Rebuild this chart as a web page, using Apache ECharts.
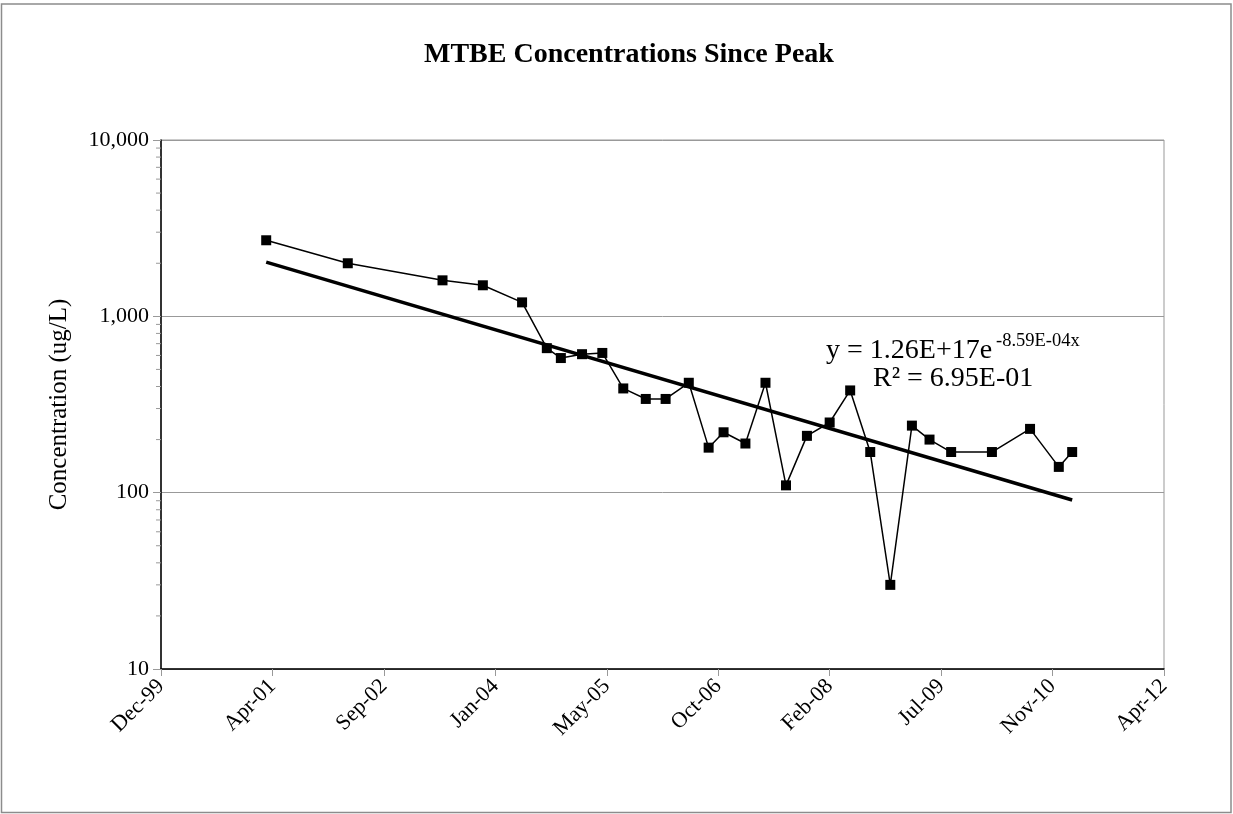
<!DOCTYPE html>
<html>
<head>
<meta charset="utf-8">
<title>MTBE Concentrations Since Peak</title>
<script src="https://cdn.jsdelivr.net/npm/echarts@6/dist/echarts.min.js"></script>
<style>
  html, body { margin: 0; padding: 0; background: #ffffff; }
  #chart { width: 1233px; height: 814px; }
</style>
</head>
<body>
<div id="chart"></div>
<script>
// Sampling dates and measured MTBE concentrations (ug/L)
const sampleDates = [
  '2001-03-22', '2002-03-23', '2003-05-22', '2003-11-19', '2004-05-13',
  '2004-09-01', '2004-11-03', '2005-02-06', '2005-05-08', '2005-08-10',
  '2005-11-19', '2006-02-16', '2006-05-31', '2006-08-28', '2006-11-03',
  '2007-02-09', '2007-05-10', '2007-08-10', '2007-11-12', '2008-02-22',
  '2008-05-24', '2008-08-22', '2008-11-20', '2009-02-25', '2009-05-15',
  '2009-08-20', '2010-02-19', '2010-08-09', '2010-12-16', '2011-02-14'
];
const mtbeValues = [
  2700, 2000, 1600, 1500, 1200,
  660, 580, 610, 620, 390,
  340, 340, 420, 180, 220,
  190, 420, 110, 210, 250,
  380, 170, 30, 240, 200,
  170, 170, 230, 140, 170
];

// Exponential fit y = A * e^(B * x), x = spreadsheet day serial
const trendA = 1.26e17;
const trendB = -8.59e-4;
const trendLabel = 'y = 1.26E+17e';
const trendExponentLabel = '-8.59E-04x';
const r2Label = 'R\u00b2 = 6.95E-01';

// Axis range as day serials (Dec-99 .. Apr-12, 500-day steps)
const xMin = 36500;
const xMax = 41000;
const xStep = 500;
const yMin = 10;
const yMax = 10000;

const MONTHS = ['Jan','Feb','Mar','Apr','May','Jun','Jul','Aug','Sep','Oct','Nov','Dec'];
const EPOCH = Date.UTC(1899, 11, 30);
const DAY = 86400000;

function toSerial(iso) {
  return Math.round((Date.parse(iso + 'T00:00:00Z') - EPOCH) / DAY);
}
function serialLabel(v) {
  const d = new Date(EPOCH + v * DAY);
  return MONTHS[d.getUTCMonth()] + '-' + String(d.getUTCFullYear() % 100).padStart(2, '0');
}

const serials = sampleDates.map(toSerial);
const measured = serials.map((s, i) => [s, mtbeValues[i]]);
const trendEnds = [serials[0], serials[serials.length - 1]];
const trend = trendEnds.map(s => [s, trendA * Math.exp(trendB * s)]);

// log-axis minor tick values (2..9 per decade)
const minorTicks = [];
for (let dec = yMin; dec < yMax; dec *= 10) {
  for (let k = 2; k <= 9; k++) minorTicks.push([xMin, dec * k]);
}

const FONT = 'Liberation Serif, Times New Roman, serif';

const chart = echarts.init(document.getElementById('chart'), null, { renderer: 'canvas' });

chart.setOption({
  animation: false,
  backgroundColor: '#ffffff',
  title: {
    text: 'MTBE Concentrations Since Peak',
    left: 419,
    top: 36,
    textStyle: { fontFamily: FONT, fontSize: 28, fontWeight: 'bold', color: '#000' }
  },
  grid: {
    left: 161, right: 69, top: 140, bottom: 145,
    show: true, borderColor: '#999', borderWidth: 1, backgroundColor: 'transparent'
  },
  xAxis: {
    type: 'value',
    min: xMin, max: xMax, interval: xStep,
    axisLine: { show: true, onZero: false, lineStyle: { color: '#000', width: 1.5 } },
    axisTick: { show: true, inside: false, length: 7, lineStyle: { color: '#999', width: 1 } },
    splitLine: { show: false },
    axisLabel: {
      rotate: 45, margin: 14,
      fontFamily: FONT, fontSize: 22, color: '#000',
      formatter: serialLabel
    }
  },
  yAxis: {
    type: 'log', logBase: 10,
    min: yMin, max: yMax,
    name: 'Concentration (ug/L)',
    nameLocation: 'middle', nameRotate: 90, nameGap: 89,
    nameTextStyle: { fontFamily: FONT, fontSize: 25, color: '#000' },
    axisLine: { show: true, lineStyle: { color: '#000', width: 1.5 } },
    axisTick: { show: true, inside: false, length: 8, lineStyle: { color: '#999', width: 1 } },
    splitLine: { show: true, lineStyle: { color: '#999', width: 1 } },
    axisLabel: {
      margin: 12,
      fontFamily: FONT, fontSize: 22, color: '#000',
      formatter: v => Math.round(v).toLocaleString('en-US')
    }
  },
  series: [
    {
      name: 'minor ticks',
      type: 'custom',
      silent: true,
      clip: false,
      data: minorTicks,
      renderItem: (params, api) => {
        const p = api.coord([api.value(0), api.value(1)]);
        return {
          type: 'line',
          shape: { x1: p[0] - 5, y1: p[1], x2: p[0], y2: p[1] },
          style: { stroke: '#999', lineWidth: 1 }
        };
      },
      z: 1
    },
    {
      name: 'Trend',
      type: 'line',
      data: trend,
      symbol: 'none',
      lineStyle: { color: '#000', width: 3.5 },
      z: 3
    },
    {
      name: 'MTBE',
      type: 'line',
      data: measured,
      symbol: 'rect',
      symbolSize: 10,
      itemStyle: { color: '#000' },
      lineStyle: { color: '#000', width: 1.5 },
      z: 4
    }
  ],
  graphic: [
    {
      type: 'rect',
      shape: { x: 1.5, y: 4, width: 1229.5, height: 808.5 },
      style: { fill: 'none', stroke: '#8c8c8c', lineWidth: 1.5 },
      silent: true, z: 0
    },
    {
      type: 'text', x: 826, y: 351,
      style: { text: trendLabel, font: '28px ' + FONT, fill: '#000', textVerticalAlign: 'middle' }
    },
    {
      type: 'text', x: 996, y: 341,
      style: { text: trendExponentLabel, font: '18.5px ' + FONT, fill: '#000', textVerticalAlign: 'middle' }
    },
    {
      type: 'text', x: 873, y: 379,
      style: { text: r2Label, font: '28px ' + FONT, fill: '#000', textVerticalAlign: 'middle' }
    }
  ]
});
</script>
</body>
</html>
